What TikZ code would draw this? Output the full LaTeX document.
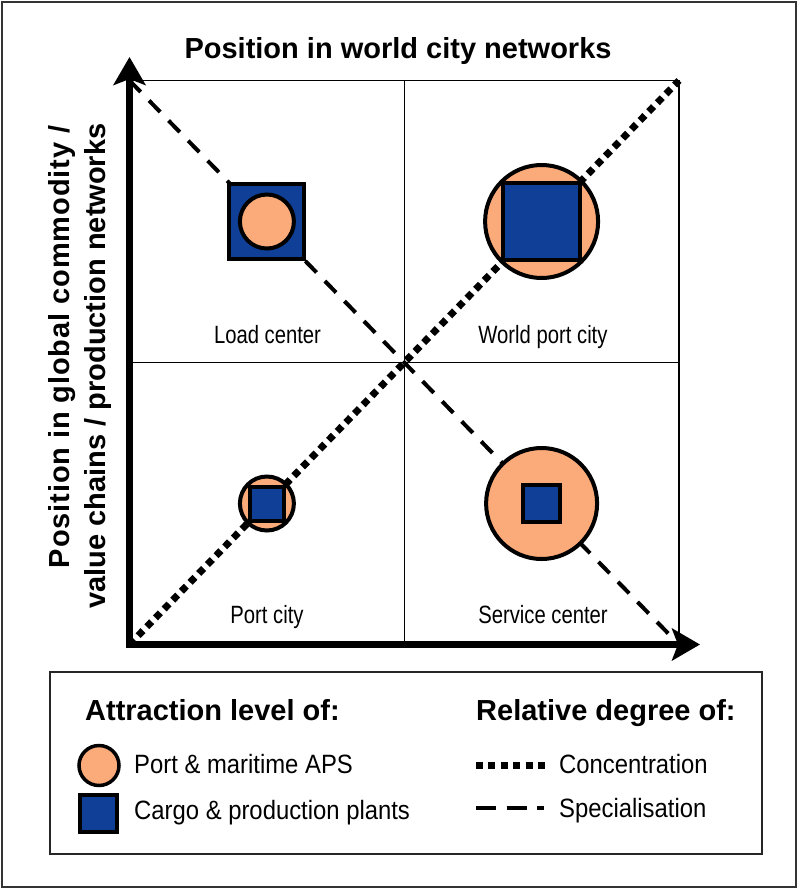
\documentclass[tikz,border=0pt]{standalone}
\usepackage{fontspec}
\setmainfont{Liberation Sans}
\newfontfamily\quadfont{Liberation Sans}[FakeStretch=0.81]
\newfontfamily\legfont{Liberation Sans}[FakeStretch=0.9]
\usetikzlibrary{arrows.meta}
\definecolor{portorange}{RGB}{251,170,122}
\definecolor{cargoblue}{RGB}{15,63,150}
\tikzset{
  quadline/.style={line width=1.5pt, black},
  orangec/.style={circle, draw=black, line width=4pt, fill=portorange, inner sep=0pt},
  bluesq/.style={rectangle, draw=black, line width=4pt, fill=cargoblue, inner sep=0pt},
  qlabel/.style={font=\quadfont\fontsize{25}{30}\selectfont, anchor=base, inner sep=0pt},
  btitle/.style={font=\bfseries\fontsize{29}{36}\selectfont, inner sep=0pt},
  legtext/.style={font=\legfont\fontsize{26.5}{32}\selectfont, anchor=base west, inner sep=0pt},
  specline/.style={line width=4pt, dash pattern=on 16pt off 12pt},
  concline/.style={line width=7pt, dash pattern=on 7pt off 5.4pt},
  axisline/.style={line width=7.5pt, line join=miter,
    {Stealth[length=28pt, width=32pt, inset=6pt]}-{Stealth[length=28pt, width=32pt, inset=6pt]}},
}
\begin{document}
\begin{tikzpicture}[x=1pt,y=-1pt]
\fill[white] (0,0) rectangle (798,889);
\useasboundingbox (0,0) rectangle (798,889);
\draw[line width=2pt, black!80] (2,2) rectangle (796,887);

% coordinates
\coordinate (tl) at (129.5,80.5);
\coordinate (tr) at (679,80.5);
\coordinate (br) at (679,644.5);
\coordinate (bl) at (129.5,644.5);
\coordinate (mt) at (404.25,80.5);
\coordinate (mb) at (404.25,644.5);
\coordinate (ml) at (129.5,362.5);
\coordinate (mr) at (679,362.5);
\coordinate (ytip) at (129.5,57);
\coordinate (xtip) at (700,644.5);

% quadrant grid
\draw[quadline] (tl) rectangle (br);
\draw[quadline] (mt) -- (mb);
\draw[quadline] (ml) -- (mr);

% diagonals
\draw[specline] (tl) -- (br);
\draw[concline] (bl) -- (tr);

% axes
\draw[axisline] (ytip) -- (bl) -- (xtip);

% title and axis label
\node[btitle, anchor=base] (title) at (398,58) {Position in world city networks};
\node[btitle, rotate=90, anchor=base] (ylab1) at (69.5,347) {\addfontfeature{LetterSpace=3}Position in global commodity /};
\node[btitle, rotate=90, anchor=base] (ylab2) at (105.5,366) {value chains / production networks};

% Load center
\node[bluesq, minimum size=75pt] (lcS) at (266.9,221.5) {};
\node[orangec, minimum size=54pt] (lcC) at (266.9,221.5) {};
% World port city
\node[orangec, minimum size=113pt] (wpC) at (541.6,221.5) {};
\node[bluesq, minimum size=77pt] (wpS) at (541.6,221.5) {};
% Port city
\node[orangec, minimum size=54pt] (pcC) at (266.9,503.5) {};
\node[bluesq, minimum size=34pt] (pcS) at (266.9,503.5) {};
% Service center
\node[orangec, minimum size=111pt] (scC) at (541.6,503.5) {};
\node[bluesq, minimum size=37pt] (scS) at (541.6,503.5) {};

% quadrant labels
\node[qlabel] (lcL) at (267.5,343) {Load center};
\node[qlabel] (wpL) at (543,343) {World port city};
\node[qlabel] (pcL) at (267,623) {Port city};
\node[qlabel] (scL) at (543,623) {Service center};

% legend
\draw[line width=1.5pt, black!85] (50,672) rectangle (762,854);
\node[btitle, anchor=base west] (legA) at (85,720) {Attraction level of:};
\node[btitle, anchor=base west] (legR) at (476,720) {Relative degree of:};
\node[orangec, minimum size=40pt, line width=3.5pt] (legC) at (99,765.5) {};
\node[bluesq, minimum size=37pt, line width=3.5pt] (legS) at (98.5,813.5) {};
\node[legtext] (legCt) at (134,773) {Port \& maritime APS};
\node[legtext] (legSt) at (134,819) {Cargo \& production plants};
\coordinate (cA) at (476,765);
\coordinate (cB) at (545,765);
\coordinate (sA) at (476,808);
\coordinate (sB) at (544,808);
\draw[concline] (cA) -- (cB);
\draw[line width=4pt, dash pattern=on 20pt off 10.5pt] (sA) -- (sB);
\node[legtext] (legDt) at (559,773) {Concentration};
\node[legtext] (legEt) at (559,817) {Specialisation};
\end{tikzpicture}
\end{document}
